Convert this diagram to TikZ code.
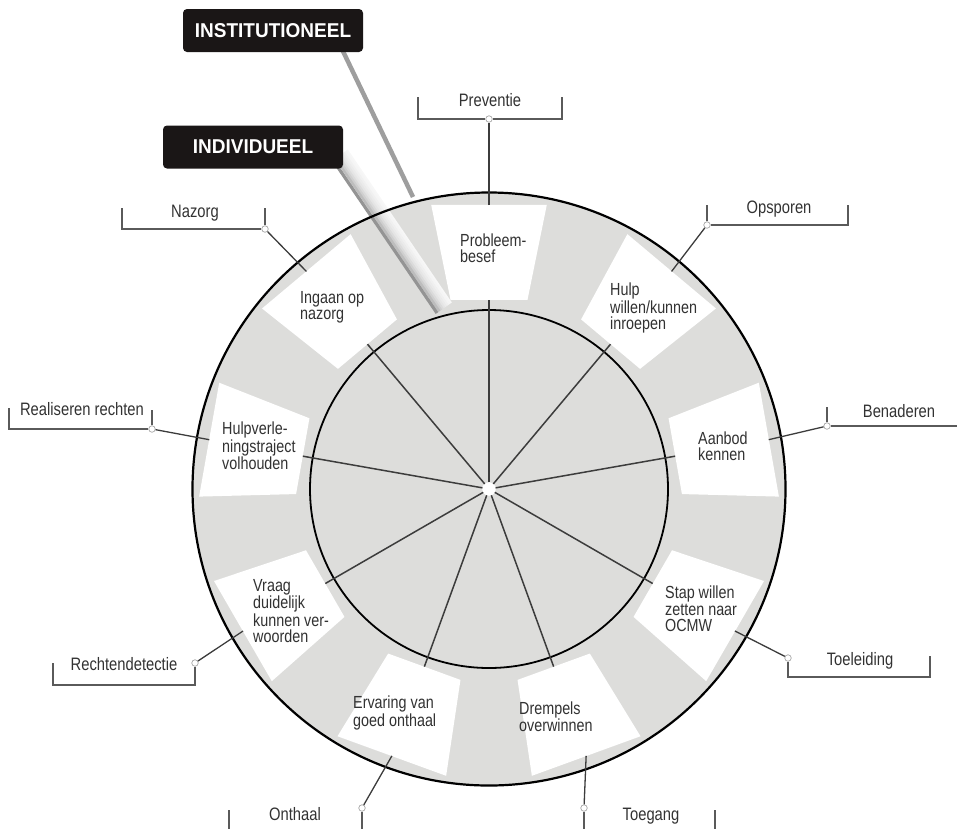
\documentclass[tikz,border=0pt]{standalone}
\usepackage{fontspec}
\setmainfont{Liberation Sans}[FakeStretch=0.82]
\newfontfamily\boldlab{Liberation Sans}[FakeStretch=0.95]
\usetikzlibrary{calc}
\definecolor{ringgray}{RGB}{221,221,219}
\definecolor{spokegray}{RGB}{60,60,60}
\definecolor{brackgray}{RGB}{90,90,90}
\definecolor{labblack}{RGB}{26,22,22}
\definecolor{txtgray}{RGB}{50,50,50}
\begin{document}
\begin{tikzpicture}[x=1pt,y=-1pt,
  boxtxt/.style={anchor=west,align=left,inner sep=0pt,font=\fontsize{17.5}{16.3}\selectfont,text=txtgray},
  outlab/.style={anchor=base,inner sep=0pt,font=\fontsize{18}{20}\selectfont,text=txtgray},
  bracket/.style={draw=brackgray,line width=1.4pt},
  leader/.style={draw=spokegray,line width=1.3pt},
  spoke/.style={draw=spokegray,line width=1.5pt},
  dot/.style={circle,draw=black!35,fill=white,line width=0.7pt,minimum size=6.5pt,inner sep=0pt},
  tag/.style={fill=labblack,rounded corners=4pt,minimum width=180pt,minimum height=43pt,inner sep=0pt,text=white,font=\boldlab\bfseries\fontsize{20}{22}\selectfont}
]
\useasboundingbox (0,0) rectangle (957,828);

% ring and boxes
\begin{scope}[shift={(489,489)},yscale=-1]
  \fill[ringgray] (0,0) circle (296.5);
  \foreach \a in {90,50,10,-30,-70,-110,-150,170,130}
    \fill[white] ({\a-11.5}:193) -- ({\a+11.5}:193) -- ({\a+11.5}:290) -- ({\a-11.5}:290) -- cycle;
\end{scope}

% pointer of INDIVIDUEEL (shaded band)
\coordinate (indA) at (333,160);
\coordinate (indB) at (437,313);
\foreach \o/\c in {17/3,15/4,13/6,11/8,9/10,7/14,5/19,3/26}
  \draw[line width=2.4pt,black!\c] ($(indA)+({0.815*\o},{-0.579*\o})$) -- ($(indB)+({0.815*\o},{-0.579*\o})$);
\draw[line width=3.2pt,black!42] (indA) -- (indB);

% pointer of INSTITUTIONEEL
\coordinate (instA) at (340,45);
\coordinate (instB) at (413,197);
\draw[line width=4.5pt,black!38] (instA) -- (instB);

% circles, spokes, leader start points
\begin{scope}[shift={(489,489)},yscale=-1]
  \draw[black,line width=2.2pt] (0,0) circle (296.5);
  \draw[black,line width=1.8pt] (0,0) circle (179);
  \coordinate (C) at (0,0);
  \foreach \a [count=\i] in {90,50,10,-30,-70,-110,-150,170,130}{
    \coordinate (sp\i) at (\a:189);
    \coordinate (e\i) at (\a:284);
  }
\end{scope}
\node[circle,fill=white,draw=white,minimum size=13pt,inner sep=0pt] (hub) at (C) {};
\foreach \i in {1,...,9}
  \draw[spoke] (hub) -- (sp\i);

% outer dots
\node[dot] (d1) at (489,119) {};
\node[dot] (d2) at (707,225) {};
\node[dot] (d3) at (827,426) {};
\node[dot] (d4) at (788,658) {};
\node[dot] (d5) at (584,808) {};
\node[dot] (d6) at (362,808) {};
\node[dot] (d7) at (195,663) {};
\node[dot] (d8) at (152,429) {};
\node[dot] (d9) at (265,229) {};

\foreach \i in {1,...,9}
  \draw[leader] (e\i) -- (d\i);

% brackets
\draw[bracket] (d1) -- ++(-71,0) -- ++(0,-22);
\draw[bracket] (d1) -- ++(73,0) -- ++(0,-22);
\draw[bracket] (d2) -- ++(0,-20);
\draw[bracket] (d2) -- ++(141,0) -- ++(0,-20);
\draw[bracket] (d3) -- ++(0,-19);
\draw[bracket] (d3) -- ++(135,0);
\draw[bracket] (d4) -- ++(0,19) -- ++(142,0) -- ++(0,-21);
\draw[bracket] (d5) -- ++(0,23) -- ++(131,0) -- ++(0,-21);
\draw[bracket] (d6) -- ++(0,23) -- ++(-133,0) -- ++(0,-21);
\draw[bracket] (d7) -- ++(0,22) -- ++(-142,0) -- ++(0,-22);
\draw[bracket] (d8) -- ++(0,-19);
\draw[bracket] (d8) -- ++(-143,0) -- ++(0,-21);
\draw[bracket] (d9) -- ++(0,-21);
\draw[bracket] (d9) -- ++(-143,0) -- ++(0,-21);

% outer labels
\node[outlab] (l1) at (490,106) {Preventie};
\node[outlab] (l2) at (779,213) {Opsporen};
\node[outlab] (l3) at (899,417) {Benaderen};
\node[outlab] (l4) at (860,665) {Toeleiding};
\node[outlab] (l5) at (651,820) {Toegang};
\node[outlab] (l6) at (295,820) {Onthaal};
\node[outlab] (l7) at (124,670) {Rechtendetectie};
\node[outlab] (l8) at (82,415) {Realiseren rechten};
\node[outlab] (l9) at (195,217) {Nazorg};

% box texts
\node[boxtxt] (b1) at (460,248) {Probleem-\\besef};
\node[boxtxt] (b2) at (610,308) {Hulp\\willen/kunnen\\inroepen};
\node[boxtxt] (b3) at (698,446) {Aanbod\\kennen};
\node[boxtxt] (b4) at (665,609) {Stap willen\\zetten naar\\OCMW};
\node[boxtxt] (b5) at (519,717) {Drempels\\overwinnen};
\node[boxtxt] (b6) at (353,713) {Ervaring van\\goed onthaal};
\node[boxtxt] (b7) at (253,611) {Vraag\\duidelijk\\kunnen ver-\\woorden};
\node[boxtxt] (b8) at (222,446) {Hulpverle-\\ningstraject\\volhouden};
\node[boxtxt] (b9) at (300,307) {Ingaan op\\nazorg};

% tags
\node[tag] (inst) at (273,30.5) {INSTITUTIONEEL};
\node[tag] (indiv) at (253,147) {INDIVIDUEEL};
\end{tikzpicture}
\end{document}
